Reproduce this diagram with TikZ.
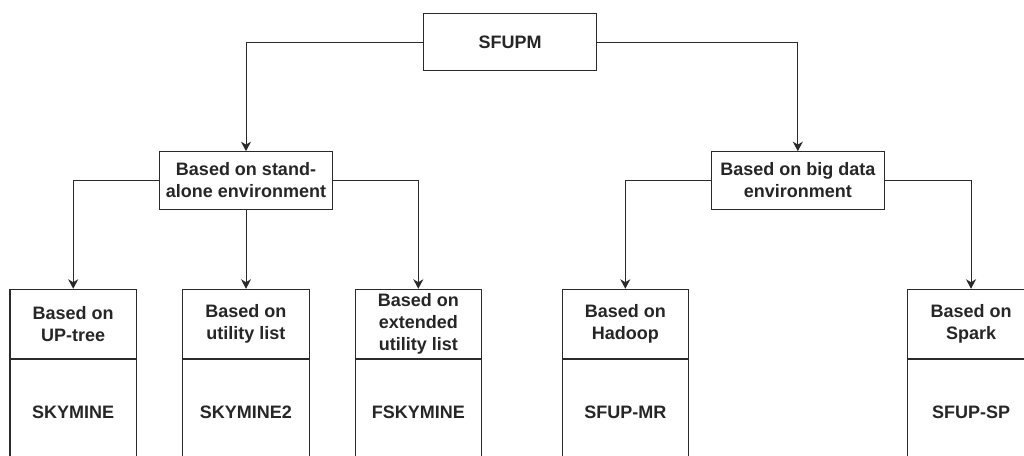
\documentclass[tikz,border=0pt]{standalone}
\usepackage{fontspec}
\setmainfont{Liberation Sans}
\usetikzlibrary{arrows.meta}
\definecolor{ink}{HTML}{262626}
\definecolor{edge}{HTML}{2a2a2a}
\tikzset{
  box/.style={draw=edge, line width=1.1pt, rectangle, inner sep=0pt, align=center,
    text=ink, font=\bfseries\fontsize{18}{22}\selectfont},
  topbox/.style={box, minimum width=172.6pt, minimum height=57.4pt},
  midbox/.style={box, minimum width=172.6pt, minimum height=57.6pt},
  headbox/.style={box, minimum width=126.5pt, minimum height=69.4pt},
  bodybox/.style={box, minimum width=126.5pt, minimum height=104pt},
  conn/.style={draw=edge, line width=1pt, -{Stealth[length=9.5pt,width=10pt,inset=3pt]}}
}
\begin{document}
\begin{tikzpicture}[x=1pt,y=-1pt]
\useasboundingbox (0,0) rectangle (1024,455);
\clip (0,0) rectangle (1024,455);
\fill[white] (0,0) rectangle (1024,455);
\node[topbox] (root) at (510.2,42) {SFUPM};
\node[midbox] (sa) at (246,180.5) {Based on stand-\\alone environment};
\node[midbox] (bd) at (797.8,180.5) {Based on big data\\environment};
\node[headbox] (h1) at (73.2,324) {Based on\\UP-tree};
\node[bodybox,anchor=north] (b1) at (h1.south) {SKYMINE};
\node[headbox] (h2) at (245.8,324) {Based on\\utility list};
\node[bodybox,anchor=north] (b2) at (h2.south) {SKYMINE2};
\node[headbox] (h3) at (418.3,324) {Based on\\extended\\utility list};
\node[bodybox,anchor=north] (b3) at (h3.south) {FSKYMINE};
\node[headbox] (h4) at (625.3,324) {Based on\\Hadoop};
\node[bodybox,anchor=north] (b4) at (h4.south) {SFUP-MR};
\node[headbox] (h5) at (971,324) {Based on\\Spark};
\node[bodybox,anchor=north] (b5) at (h5.south) {SFUP-SP};
\draw[conn] (root.west) -| (sa.north);
\draw[conn] (root.east) -| (bd.north);
\draw[conn] (sa.west) -| (h1.north);
\draw[conn] (sa.south) -- (sa.south |- h2.north);
\draw[conn] (sa.east) -| (h3.north);
\draw[conn] (bd.west) -| (h4.north);
\draw[conn] (bd.east) -| (h5.north);
\end{tikzpicture}
\end{document}
